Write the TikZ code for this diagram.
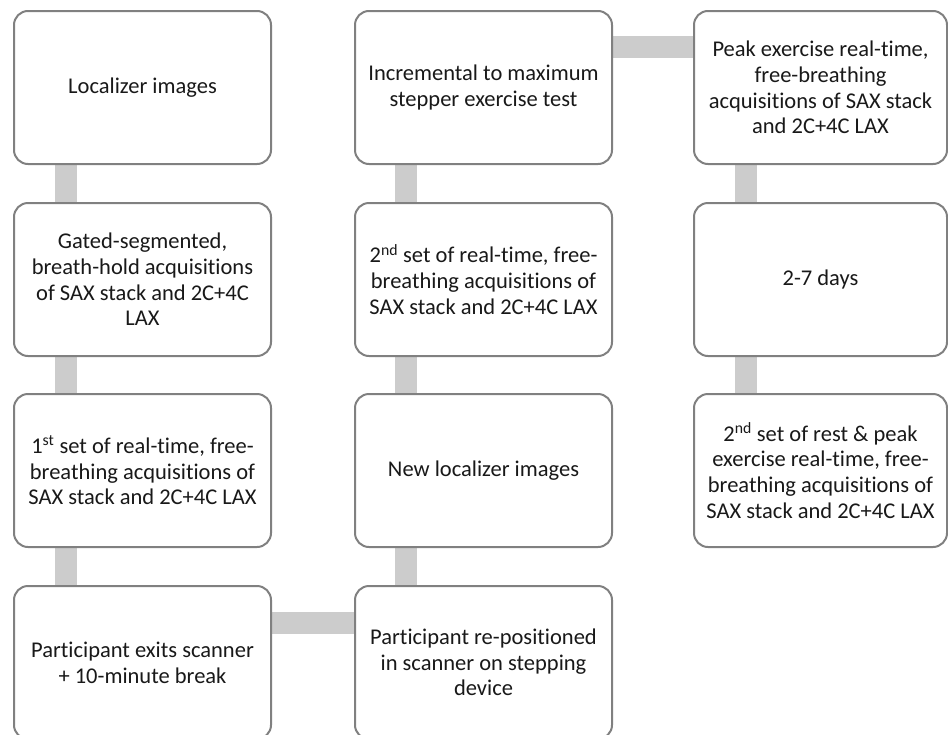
\documentclass[tikz,border=0pt]{standalone}
\usepackage{fontspec}
\setmainfont[RawFeature={-liga;-clig;-dlig;-calt}]{Carlito}
\begin{document}
\begin{tikzpicture}[x=1pt,y=1pt,
  stepbox/.style={draw=boxgray, line width=2pt, rounded corners=14pt, fill=white,
    minimum width=257pt, minimum height=153pt, anchor=north west, align=center,
    inner sep=0pt, font=\fontsize{22.5}{25.7}\selectfont, text=black!90},
  narrowbox/.style={stepbox, minimum width=253pt},
  link/.style={draw=linkgray, line width=22pt}]
\definecolor{boxgray}{HTML}{808080}
\definecolor{linkgray}{HTML}{CCCCCC}
\pgfdeclarelayer{bg}
\pgfsetlayers{bg,main}
\useasboundingbox (0,0) rectangle (948,-734);
% column 1
\node[stepbox] (a1) at (13,-10) {Localizer images};
\node[stepbox] (a2) at (13,-202) {Gated-segmented,\\breath-hold acquisitions\\of SAX stack and 2C+4C\\LAX};
\node[stepbox] (a3) at (13,-393) {1\textsuperscript{st} set of real-time, free-\\breathing acquisitions of\\SAX stack and 2C+4C LAX};
\node[stepbox] (a4) at (13,-585) {Participant exits scanner\\+ 10-minute break};
% column 2
\node[stepbox] (b1) at (354,-10) {Incremental to maximum\\stepper exercise test};
\node[stepbox] (b2) at (354,-202) {2\textsuperscript{nd} set of real-time, free-\\breathing acquisitions of\\SAX stack and 2C+4C LAX};
\node[stepbox] (b3) at (354,-393) {New localizer images};
\node[stepbox] (b4) at (354,-585) {Participant re-positioned\\in scanner on stepping\\device};
% column 3
\node[narrowbox] (c1) at (693,-10) {Peak exercise real-time,\\free-breathing\\acquisitions of SAX stack\\and 2C+4C LAX};
\node[narrowbox] (c2) at (693,-202) {2-7 days};
\node[narrowbox] (c3) at (693,-393) {2\textsuperscript{nd} set of rest \& peak\\exercise real-time, free-\\breathing acquisitions of\\SAX stack and 2C+4C LAX};
\begin{pgfonlayer}{bg}
\draw[link] ([xshift=52.5pt]a1.south west) -- ([xshift=52.5pt]a2.north west);
\draw[link] ([xshift=52.5pt]a2.south west) -- ([xshift=52.5pt]a3.north west);
\draw[link] ([xshift=52.5pt]a3.south west) -- ([xshift=52.5pt]a4.north west);
\draw[link] ([yshift=-37.5pt]a4.north east) -- ([yshift=-37.5pt]b4.north west);
\draw[link] ([xshift=52pt]b4.north west) -- ([xshift=52pt]b3.south west);
\draw[link] ([xshift=52pt]b3.north west) -- ([xshift=52pt]b2.south west);
\draw[link] ([xshift=52pt]b2.north west) -- ([xshift=52pt]b1.south west);
\draw[link] ([yshift=-37pt]b1.north east) -- ([yshift=-37pt]c1.north west);
\draw[link] ([xshift=53pt]c1.south west) -- ([xshift=53pt]c2.north west);
\draw[link] ([xshift=53pt]c2.south west) -- ([xshift=53pt]c3.north west);
\end{pgfonlayer}
\end{tikzpicture}
\end{document}
